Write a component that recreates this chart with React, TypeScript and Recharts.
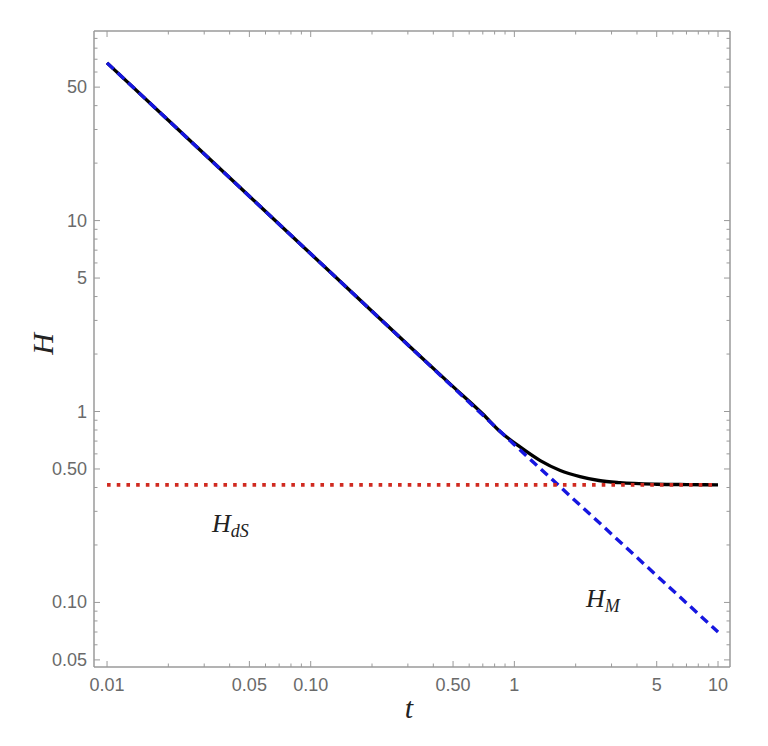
import { LineChart, Line, XAxis, YAxis } from "recharts";

// t values (log axis) and H values
const blackT = [0.01, 0.02, 0.05, 0.1, 0.2, 0.35, 0.5, 0.7, 0.85, 1.07, 1.34, 1.68, 2.1, 2.6, 3.3, 5, 7, 10];
const blackH = [67, 33.5, 13.4, 6.7, 3.35, 1.92, 1.35, 0.97, 0.785, 0.65, 0.553, 0.491, 0.456, 0.435, 0.424, 0.416, 0.414, 0.413];

const matterT = [0.01, 0.1, 1, 10];
const matterH = [67, 6.7, 0.67, 0.07];

const deSitterT = [0.01, 10];
const deSitterH = [0.413, 0.413];

const xMajorTicks  = [0.01, 0.05, 0.1, 0.5, 1, 5, 10];
const xMajorLabels = ["0.01", "0.05", "0.10", "0.50", "1", "5", "10"];
const xMinorTicks  = [0.02, 0.03, 0.04, 0.06, 0.07, 0.08, 0.09, 0.2, 0.3, 0.4, 0.6, 0.7, 0.8, 0.9, 2, 3, 4, 6, 7, 8, 9];

const yMajorTicks  = [0.05, 0.1, 0.5, 1, 5, 10, 50];
const yMajorLabels = ["0.05", "0.10", "0.50", "1", "5", "10", "50"];
const yMinorTicks  = [0.06, 0.07, 0.08, 0.09, 0.2, 0.3, 0.4, 0.6, 0.7, 0.8, 0.9, 2, 3, 4, 6, 7, 8, 9, 20, 30, 40, 60, 70, 80, 90];

const blackData    = blackT.map((t, i) => ({ t, H: blackH[i] }));
const matterData   = matterT.map((t, i) => ({ t, H: matterH[i] }));
const deSitterData = deSitterT.map((t, i) => ({ t, H: deSitterH[i] }));

const xTicks = [...xMajorTicks, ...xMinorTicks].sort((a, b) => a - b);
const yTicks = [...yMajorTicks, ...yMinorTicks].sort((a, b) => a - b);

const W = 768;
const H = 746;
const PLOT = { left: 94, right: 730, top: 31, bottom: 667 };
const FRAME = "#9a9a9a";
const LABEL = "#6a6a6a";
const SANS = "'Liberation Sans', Arial, sans-serif";
const SERIF = "'Liberation Serif', 'Times New Roman', serif";

const X_DOMAIN: [number, number] = [0.00863, 11.45];
const Y_DOMAIN: [number, number] = [0.0459, 98.4];

function majorIndex(list: number[], v: number) {
  return list.findIndex((m) => Math.abs(m - v) < 1e-9);
}

function XTick(props: any) {
  const { x, payload, side } = props;
  const idx = majorIndex(xMajorTicks, payload.value);
  const len = idx >= 0 ? 6 : 3.5;
  const y0 = side === "top" ? PLOT.top : PLOT.bottom;
  const dir = side === "top" ? 1 : -1;
  return (
    <g>
      <line x1={x} x2={x} y1={y0} y2={y0 + dir * len} stroke={FRAME} strokeWidth={1} />
      {side !== "top" && idx >= 0 && (
        <text x={x} y={691} textAnchor="middle" fill={LABEL} fontSize={18} fontFamily={SANS}>
          {xMajorLabels[idx]}
        </text>
      )}
    </g>
  );
}

function YTick(props: any) {
  const { y, payload, side } = props;
  const idx = majorIndex(yMajorTicks, payload.value);
  const len = idx >= 0 ? 6 : 3.5;
  const x0 = side === "right" ? PLOT.right : PLOT.left;
  const dir = side === "right" ? -1 : 1;
  return (
    <g>
      <line x1={x0} x2={x0 + dir * len} y1={y} y2={y} stroke={FRAME} strokeWidth={1} />
      {side !== "right" && idx >= 0 && (
        <text x={87} y={y} textAnchor="end" dominantBaseline="central" fill={LABEL} fontSize={18} fontFamily={SANS}>
          {yMajorLabels[idx]}
        </text>
      )}
    </g>
  );
}

export default function App() {
  const axisLine = { stroke: FRAME, strokeWidth: 1.5 };
  return (
    <div style={{ position: "absolute", left: 0, top: 0, width: W, height: H, background: "#fff" }}>
      <LineChart width={W} height={H} margin={{ top: 21, right: 28, bottom: 39, left: 34 }}>
        <XAxis
          xAxisId="b"
          dataKey="t"
          type="number"
          scale="log"
          domain={X_DOMAIN}
          allowDataOverflow
          ticks={xTicks}
          interval={0}
          tickLine={false}
          axisLine={axisLine}
          tick={<XTick side="bottom" />}
          height={40}
        />
        <XAxis
          xAxisId="top"
          orientation="top"
          dataKey="t"
          type="number"
          scale="log"
          domain={X_DOMAIN}
          allowDataOverflow
          ticks={xTicks}
          interval={0}
          tickLine={false}
          axisLine={axisLine}
          tick={<XTick side="top" />}
          height={10}
        />
        <YAxis
          yAxisId="l"
          dataKey="H"
          type="number"
          scale="log"
          domain={Y_DOMAIN}
          allowDataOverflow
          ticks={yTicks}
          interval={0}
          tickLine={false}
          axisLine={axisLine}
          tick={<YTick side="left" />}
          width={60}
        />
        <YAxis
          yAxisId="right"
          orientation="right"
          dataKey="H"
          type="number"
          scale="log"
          domain={Y_DOMAIN}
          allowDataOverflow
          ticks={yTicks}
          interval={0}
          tickLine={false}
          axisLine={axisLine}
          tick={<YTick side="right" />}
          width={10}
        />

        {/* full solution */}
        <Line
          xAxisId="b"
          yAxisId="l"
          data={blackData}
          dataKey="H"
          type="monotone"
          stroke="#000"
          strokeWidth={3.4}
          strokeLinejoin="round"
          dot={false}
          isAnimationActive={false}
        />
        {/* matter-dominated */}
        <Line
          xAxisId="b"
          yAxisId="l"
          data={matterData}
          dataKey="H"
          type="linear"
          stroke="#1616e0"
          strokeWidth={3.4}
          strokeDasharray="9 5.5"
          dot={false}
          isAnimationActive={false}
        />
        {/* de Sitter */}
        <Line
          xAxisId="b"
          yAxisId="l"
          data={deSitterData}
          dataKey="H"
          type="linear"
          stroke="#d02a20"
          strokeWidth={3.6}
          strokeDasharray="3.6 6.1"
          dot={false}
          isAnimationActive={false}
        />
      </LineChart>

      <svg width={W} height={H} style={{ position: "absolute", left: 0, top: 0, pointerEvents: "none" }}>
        <text
          x={42}
          y={344}
          transform="rotate(-90 42 344)"
          textAnchor="middle"
          dominantBaseline="central"
          fontFamily={SERIF}
          fontStyle="italic"
          fontSize={30}
          fill="#222"
        >
          H
        </text>
        <text x={409} y={718} textAnchor="middle" fontFamily={SERIF} fontStyle="italic" fontSize={30} fill="#222">
          t
        </text>
        <text x={212} y={532} fontFamily={SERIF} fontStyle="italic" fontSize={26} fill="#222">
          H
          <tspan fontSize={18} dy={5}>dS</tspan>
        </text>
        <text x={586} y={607} fontFamily={SERIF} fontStyle="italic" fontSize={26} fill="#222">
          H
          <tspan fontSize={18} dy={5}>M</tspan>
        </text>
      </svg>
    </div>
  );
}
